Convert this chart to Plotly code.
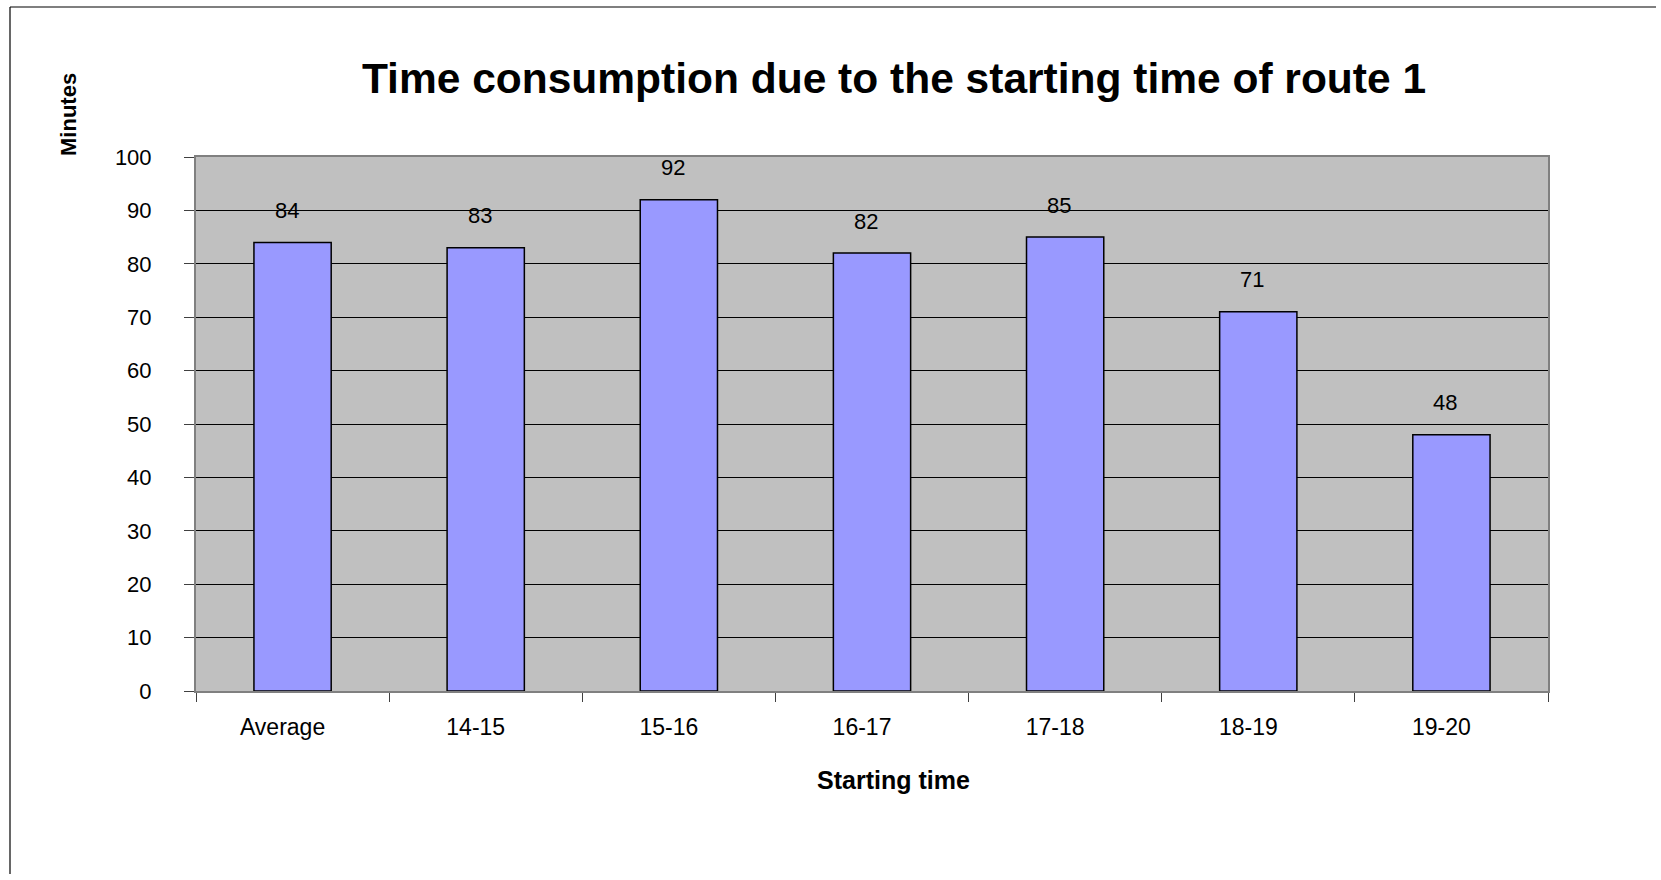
import plotly.graph_objects as go

# Travel time (minutes) per starting-time slot on route 1
categories = ["Average", "14-15", "15-16", "16-17", "17-18", "18-19", "19-20"]
minutes = [84, 83, 92, 82, 85, 71, 48]
y_ticks = [0, 10, 20, 30, 40, 50, 60, 70, 80, 90, 100]

W, H = 1656, 874
L, T = 196, 157
R = W - 1548
B = H - 691
FONT = "Liberation Sans, Arial, sans-serif"
pw, ph = W - L - R, H - T - B


def px_x(px):
    return (px - L) / pw


def px_y(py):
    return (H - B - py) / ph


fig = go.Figure()
fig.add_trace(go.Bar(
    x=categories,
    y=minutes,
    marker=dict(color="#9999FF", line=dict(color="#000000", width=1.5)),
    hoverinfo="x+y",
))

# Value labels above each bar
for c, v in zip(categories, minutes):
    fig.add_annotation(
        x=c, y=v, text=str(v), showarrow=False,
        xshift=-6, yshift=32, yanchor="middle",
        font=dict(family=FONT, size=22, color="#000000"),
    )

# Y-axis caption sits at the top-left corner of the chart
fig.add_annotation(
    xref="paper", yref="paper",
    x=px_x(68), y=px_y(115),
    text="<b>Minutes</b>", textangle=-90, showarrow=False,
    xanchor="center", yanchor="middle",
    font=dict(family=FONT, size=22, color="#000000"),
)

# X-axis caption
fig.add_annotation(
    xref="paper", yref="paper",
    x=px_x(893), y=px_y(780),
    text="<b>Starting time</b>", showarrow=False,
    xanchor="center", yanchor="middle",
    font=dict(family=FONT, size=25, color="#000000"),
)

# Chart-area frame: left and top edges, kept inside the canvas
fig.add_shape(
    type="line", xref="paper", yref="paper",
    x0=px_x(10), x1=px_x(10), y0=px_y(H), y1=px_y(7),
    line=dict(color="#000000", width=1.2), layer="below",
)
fig.add_shape(
    type="line", xref="paper", yref="paper",
    x0=px_x(10), x1=px_x(W), y0=px_y(7), y1=px_y(7),
    line=dict(color="#000000", width=1.2), layer="below",
)

fig.update_layout(
    width=W, height=H,
    margin=dict(l=L, r=R, t=T, b=B, pad=0),
    paper_bgcolor="#FFFFFF",
    plot_bgcolor="#C0C0C0",
    bargap=0.6,
    showlegend=False,
    title=dict(
        text="<b>Time consumption due to the starting time of route 1</b>",
        xref="container", yref="container",
        x=894 / W, y=1 - 78 / H, xanchor="center", yanchor="middle",
        font=dict(family=FONT, size=42.5, color="#000000"),
    ),
    font=dict(family=FONT, color="#000000"),
)

fig.update_xaxes(
    type="category",
    showgrid=False,
    showline=True, linecolor="#808080", linewidth=2, mirror=True,
    ticks="outside", ticklen=9, tickwidth=1, tickcolor="#404040",
    tickson="boundaries",
    ticklabelstandoff=14, ticklabelshift=-10,
    tickfont=dict(family=FONT, size=23, color="#000000"),
)

fig.update_yaxes(
    range=[0, 100],
    tickvals=y_ticks,
    showgrid=True, gridcolor="#000000", gridwidth=1,
    zeroline=False,
    showline=True, linecolor="#808080", linewidth=2, mirror=True,
    ticks="outside", ticklen=10, tickwidth=1, tickcolor="#404040",
    ticklabelstandoff=28,
    tickfont=dict(family=FONT, size=22, color="#000000"),
)

fig.write_html("out.html")
